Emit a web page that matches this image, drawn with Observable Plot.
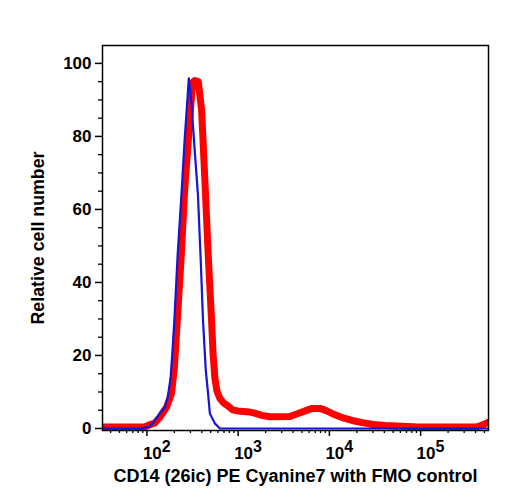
<!DOCTYPE html>
<html><head><meta charset="utf-8">
<script src="https://cdn.jsdelivr.net/npm/d3@7"></script>
<script src="https://cdn.jsdelivr.net/npm/@observablehq/plot@0.6"></script>
<style>body{margin:0;background:#fff}</style>
</head><body><div id="chart"></div>
<script>
// FMO control (blue, thin)
const fmoIntensity = [33, 83, 100, 107, 122, 138, 157, 169, 182, 191, 200, 217, 240, 259, 288, 308, 334, 363, 389, 412, 442, 468, 490, 555, 631, 554600];
const fmoCount     = [0, 0, 0.3, 0.5, 2.2, 4.1, 5.8, 8.5, 14, 21.4, 29.6, 47.4, 64.7, 78.9, 95.9, 89, 76.2, 63.8, 46, 29.6, 15.9, 9.6, 4.1, 1.4, 0, 0];
// CD14 stained (red, thick)
const cd14Intensity = [33, 94, 107, 122, 138, 164, 186, 200, 212, 238, 259, 295, 316, 335, 366, 398, 442, 470, 511, 531, 555, 583, 631, 687, 771, 871, 1047, 1343, 1514, 1820, 2228, 2871, 3698, 4529, 5546, 6457, 7907, 9204, 10965, 13804, 17783, 22909, 30200, 40738, 83176, 91201, 407380, 489780, 554600];
const cd14Count     = [0.4, 0.4, 1.0, 1.5, 3.0, 5.8, 9.6, 16.7, 26.8, 47.4, 65.2, 84.4, 94.8, 95.3, 95, 87.1, 62.5, 47.4, 29.6, 20.5, 14, 10.4, 8.2, 7.1, 6.2, 5.1, 4.7, 4.5, 4.2, 3.6, 3.2, 3.2, 3.3, 4.1, 4.9, 5.5, 5.5, 4.9, 4.0, 3.0, 2.2, 1.6, 1.1, 0.8, 0.5, 0.4, 0.4, 1.1, 1.7];

const xMajorTicks = [100, 1000, 10000, 100000];
const xTickExponents = ["2", "3", "4", "5"];
const xMinorTicks = [40,50,60,70,80,90, 200,300,400,500,600,700,800,900, 2000,3000,4000,5000,6000,7000,8000,9000, 20000,30000,40000,50000,60000,70000,80000,90000, 200000,300000,400000,500000];
const yMajorTicks = [0, 20, 40, 60, 80, 100];
const yMinorTicks = [5,10,15,25,30,35,45,50,55,65,70,75,85,90,95];
const xTitle = "CD14 (26ic) PE Cyanine7 with FMO control";
const yTitle = "Relative cell number";

const fmo = fmoIntensity.map((x, i) => ({x, y: fmoCount[i]}));
const cd14 = cd14Intensity.map((x, i) => ({x, y: cd14Count[i]}));

const chart = Plot.plot({
  width: 508, height: 500,
  marginLeft: 102, marginRight: 20, marginTop: 45, marginBottom: 70,
  style: {fontFamily: "'Liberation Sans', Arial, sans-serif", fontWeight: "bold", fontSize: "17px", color: "black", background: "white"},
  x: {type: "log", domain: [32.6, 554600]},
  y: {domain: [-0.55, 104.9]},
  marks: [
    Plot.line(cd14, {x: "x", y: "y", stroke: "#ff0000", strokeWidth: 7, strokeLinejoin: "round", clip: true}),
    Plot.line(fmo, {x: "x", y: "y", stroke: "#1414dc", strokeWidth: 2.2, clip: true}),
    Plot.frame({stroke: "black", strokeWidth: 1.5}),
    Plot.axisX(xMinorTicks, {tickSize: 3, tickFormat: () => "", strokeWidth: 1.3, label: null}),
    Plot.axisX(xMajorTicks, {tickSize: 6, tickPadding: 10, strokeWidth: 1.5,
      tickFormat: d => "10|" + xTickExponents[xMajorTicks.indexOf(d)],
      label: xTitle, labelAnchor: "center", labelOffset: 51, labelArrow: "none"}),
    Plot.axisY(yMinorTicks, {tickSize: 4, tickFormat: () => "", strokeWidth: 1.3, label: null}),
    Plot.axisY(yMajorTicks, {tickSize: 7, tickPadding: 4, strokeWidth: 1.5, label: yTitle, labelAnchor: "center", labelOffset: 71, labelArrow: "none"})
  ]
});
document.getElementById("chart").appendChild(chart);

chart.querySelectorAll("text").forEach(t => {
  let s = t.textContent;
  if (/[→↑]/.test(s)) { s = s.replace(/\s*[→↑]\s*/g, "").trim(); t.textContent = s; }
  const m = /^10\|(\d)$/.exec(s);
  if (m) {
    t.textContent = "10";
    t.setAttribute("text-anchor", "start");
    t.setAttribute("dx", "-4");
    const ts = document.createElementNS("http://www.w3.org/2000/svg", "tspan");
    ts.setAttribute("dy", "-7");
    ts.style.fontSize = "16px";
    ts.textContent = m[1];
    t.appendChild(ts);
  }
  if (s === xTitle) t.style.fontSize = "18px";
  if (s === yTitle) t.style.fontSize = "17.8px";
});
</script>
</body></html>
